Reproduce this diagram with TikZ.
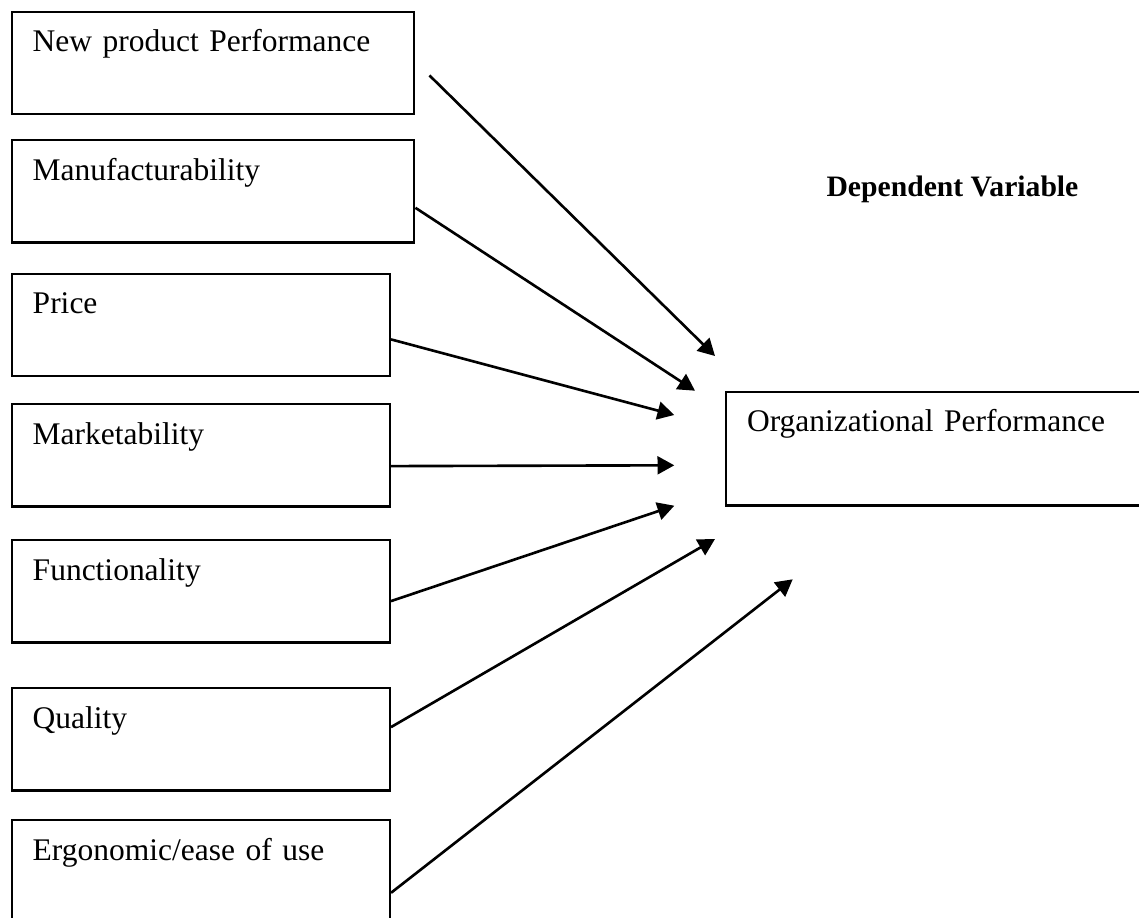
\documentclass[tikz,border=0pt]{standalone}
\usepackage{fontspec}
\setmainfont{Liberation Serif}
\usetikzlibrary{arrows.meta}

\begin{document}
\begin{tikzpicture}[x=0.381pt, y=-0.381pt, >={Triangle[length=6.4pt,width=6.8pt]},
	every node/.style={font=\fontsize{12}{14}\selectfont},
	box/.style={draw, line width=0.8pt, anchor=north west, align=left, inner xsep=8pt, inner ysep=0pt, text height=15.2pt, text depth=23.7pt},
	longbox/.style={box, text width=137.4pt},
	shortbox/.style={box, text width=128.1pt},
	arr/.style={->, line width=1pt}]
	\useasboundingbox (0,0) rectangle (1139,917);

	% Left: independent variables
	\node[longbox] (npp) at (10.7,11) {New product Performance};
	\node[longbox] (manu) at (10.7,139.3) {Manufacturability};
	\node[shortbox] (price) at (10.7,272.7) {Price};
	\node[shortbox] (market) at (10.7,403.3) {Marketability};
	\node[shortbox] (func) at (10.7,539.3) {Functionality};
	\node[shortbox] (qual) at (10.7,687.3) {Quality};
	\node[shortbox] (ergo) at (10.7,819.3) {Ergonomic/ease of use};

	% Right: dependent variable
	\node[anchor=base west, inner sep=0pt, font=\fontsize{11.3}{13}\selectfont\bfseries] (dv) at (826,196) {Dependent Variable};
	\node[box, text width=146pt, text height=14.9pt, text depth=28.3pt] (org) at (725,391) {Organizational Performance};

	% arrow ends
	\coordinate (t1) at (715,356);
	\coordinate (t2) at (695,390.7);
	\coordinate (t3) at (674.3,415);
	\coordinate (t4) at (674.3,465.3);
	\coordinate (t5) at (674.3,505.7);
	\coordinate (t6) at (715,539);
	\coordinate (t7) at (792.7,579.3);

	\draw[arr] ([shift={(14,12.3)}]npp.east) -- (t1);
	\draw[arr] ([shift={(0,16.4)}]manu.east) -- (t2);
	\draw[arr] ([shift={(0,14.6)}]price.east) -- (t3);
	\draw[arr] ([shift={(0,10.7)}]market.east) -- (t4);
	\draw[arr] ([shift={(0,9.7)}]func.east) -- (t5);
	\draw[arr] ([shift={(0,-12.3)}]qual.east) -- (t6);
	\draw[arr] ([shift={(0,21.4)}]ergo.east) -- (t7);
\end{tikzpicture}
\end{document}
